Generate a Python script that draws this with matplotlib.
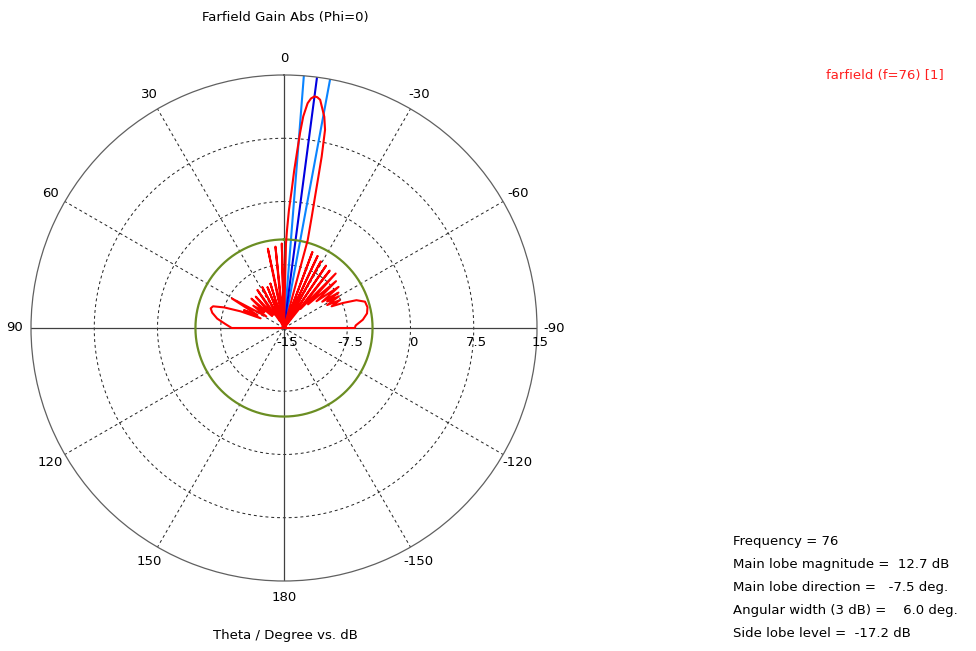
import numpy as np
import matplotlib.pyplot as plt

# farfield cut, phi = 0 (theta in degrees, gain in dB)
theta_deg = [-180, -92, -90, -88, -84, -80, -76, -72, -69, -67,
             -65.5, -63.5, -62, -60, -58.5, -57, -55.5, -53, -50.5, -48,
             -45.5, -43.5, -41, -38.5, -36, -34, -31.5, -29, -27, -25,
             -22.5, -20.5, -18.5, -16.2,
             -15.1, -14.0, -13.3, -12.8, -12.4, -11.7, -10.8, -9.0, -8.2, -7.5,
             -6.7, -6.0, -5.2, -4.7, -4.3, -3.7, -3.2, -2.4, -1.75, -1.35, -0.8,
             1.5, 3.5, 6, 8.5, 11.5, 14.5, 17, 19.5, 22, 25,
             28, 31, 35, 38.5, 42, 45, 48, 51, 54, 57,
             60.5, 64, 66, 67.5, 69, 71, 73, 75, 78, 82,
             86, 90, 92, 180]
gain_db = [-30, -30, -6.6, -6.5, -5.6, -5.0, -4.8, -4.9, -5.8, -7.4,
           -8.8, -7.6, -9.2, -7.5, -9.0, -7.3, -9.5, -6.9, -10, -6.7,
           -11, -6.1, -12, -6.3, -16, -6.1, -20, -6.0, -20, -5.6,
           -20, -5.4, -20, -20,
           -4.2, -1.4, 1.0, 3.4, 5.8, 9.0, 10.5, 12.4, 12.65, 12.7,
           12.4, 11.8, 10.2, 8.2, 6.2, 3.7, 1.4, -1.0, -3.4, -5.0, -20,
           -5.0, -20, -5.3, -13, -5.4, -20, -9.5, -20, -9.8, -15,
           -9.5, -14, -9.5, -13, -10, -13, -9.8, -12, -10.5, -12.5,
           -7.9, -11.5, -9.8, -12, -9.5, -7.5, -6.2, -6.0, -6.3, -7.0,
           -8.0, -8.8, -30, -30]

main_dir = -7.5
main_mag = 12.7
width_3db = 6.0
side_lobe = -17.2
frequency = 76

r_min, r_max = -15, 15
r_ticks = [-15, -7.5, 0, 7.5, 15]
r_labels = ['-15', '-7.5', '0', '7.5', '15']
ang_ticks = [0, 30, 60, 90, 120, 150, 180, -150, -120, -90, -60, -30]

fig = plt.figure(figsize=(9.76, 6.51), dpi=100)
ax = fig.add_axes([284 / 976 - 253 / 976, 1 - (328 + 253) / 651, 506 / 976, 506 / 651],
                  projection='polar')
ax.set_theta_zero_location('N')
ax.set_theta_direction(1)
ax.set_ylim(r_min, r_max)
ax.grid(False)
ax.set_xticks([])
ax.set_yticks([])
ax.spines['polar'].set_color('#606060')
ax.spines['polar'].set_linewidth(0.9)

t = np.linspace(0, 2 * np.pi, 721)
for r in r_ticks[1:-1]:
    ax.plot(t, np.full_like(t, r), color='#202020', lw=0.7, ls=(0, (3, 3)))
for a in ang_ticks:
    if a % 90 == 0:
        ax.plot([np.deg2rad(a)] * 2, [r_min, r_max], color='#404040', lw=0.9)
    else:
        ax.plot([np.deg2rad(a)] * 2, [r_min, r_max], color='#202020', lw=0.7, ls=(0, (3, 3)))

# angle labels around the circle
for a in ang_ticks:
    ax.text(np.deg2rad(a), 17.0, str(a), ha='center', va='center', fontsize=9.5)
# dB labels along the -90 axis
for r, lbl in zip(r_ticks, r_labels):
    ax.annotate(lbl, xy=(np.deg2rad(-90), r), xytext=(3, -15), textcoords='offset pixels',
                ha='center', va='center', fontsize=9.5)

# main lobe direction and 3 dB width
for d, c in [(main_dir - width_3db / 2, '#0a84ff'), (main_dir + width_3db / 2, '#0a84ff'),
             (main_dir, '#0000e0')]:
    ax.plot([np.deg2rad(d)] * 2, [r_min, r_max], color=c, lw=1.5)

# side lobe level circle
ax.plot(t, np.full_like(t, main_mag + side_lobe), color='#6b8e23', lw=1.6)

ax.plot(np.deg2rad(theta_deg), np.clip(gain_db, r_min, None), color='#ff0000', lw=1.5)

fig.text(285 / 976, 1 - 18 / 651, 'Farfield Gain Abs (Phi=0)', ha='center', va='center', fontsize=9.5)
fig.text(285 / 976, 1 - 636 / 651, 'Theta / Degree vs. dB', ha='center', va='center', fontsize=9.5)
fig.text(944 / 976, 1 - 76 / 651, 'farfield (f=%d) [1]' % frequency, ha='right', va='center',
         fontsize=9.5, color='#ff2020')

info = ['Frequency = %d' % frequency,
        'Main lobe magnitude =  %.1f dB' % main_mag,
        'Main lobe direction =   %.1f deg.' % main_dir,
        'Angular width (3 dB) =    %.1f deg.' % width_3db,
        'Side lobe level =  %.1f dB' % side_lobe]
for i, s in enumerate(info):
    fig.text(733 / 976, 1 - (541 + 23.2 * i) / 651, s, ha='left', va='center', fontsize=9.5)

fig.savefig('out.png', dpi=100)
